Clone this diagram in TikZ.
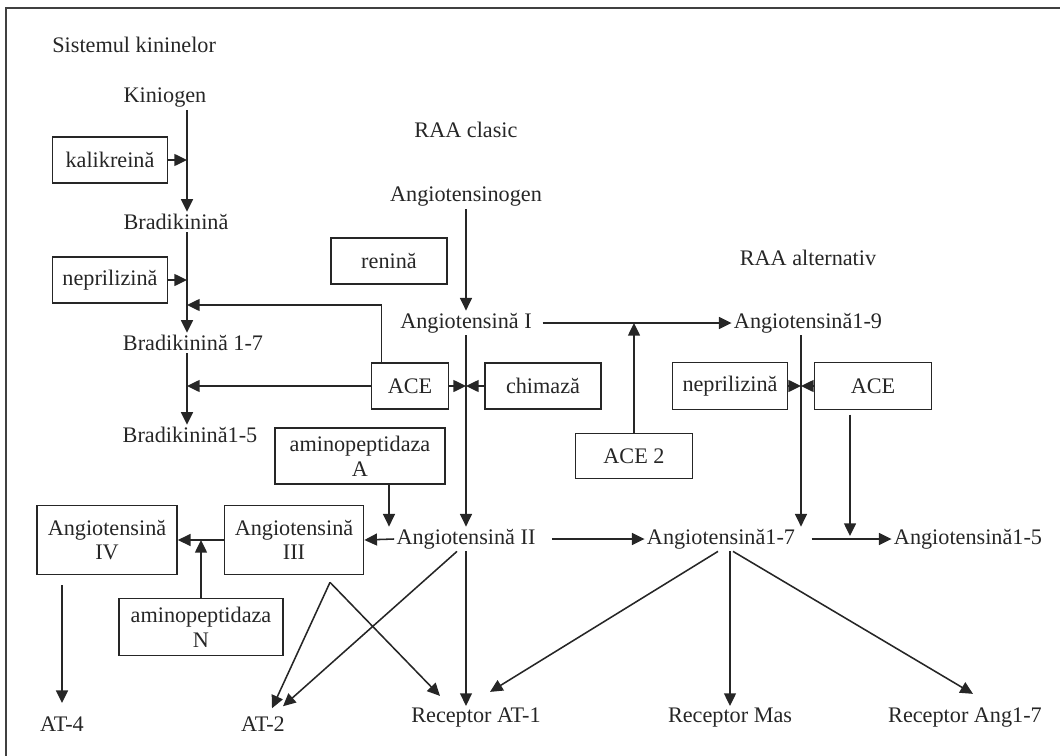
\documentclass[tikz,border=0pt]{standalone}
\usepackage{fontspec}
\setmainfont{Liberation Serif}
\usetikzlibrary{arrows.meta,positioning}

\tikzset{
  lbl/.style={inner sep=1.5pt, font=\fontsize{15.8}{17.5}\selectfont, text=black!85},
  enz/.style 2 args={draw=black!85, line width=1.2pt, align=center, inner sep=1pt,
    font=\fontsize{15.8}{17.5}\selectfont, text=black!85,
    minimum width=#1*0.025cm, minimum height=#2*0.025cm},
  arr/.style={draw=black!85, line width=1.1pt, -{Triangle[length=9pt,width=8.5pt]}},
  ln/.style={draw=black!85, line width=1.1pt}
}

\begin{document}
\begin{tikzpicture}[x=0.025cm, y=-0.025cm]
\useasboundingbox (0,0) rectangle (1060,756);
\draw[black!75, line width=1.4pt] (6,8) rectangle (1075,775); % frame

% Sistemul kininelor
\node[lbl, anchor=west] (titk) at (50,45) {Sistemul kininelor};
\node[lbl] (kin)  at (165,98)  {Kiniogen};
\node[lbl] (bk)   at (176,222) {Bradikinină};
\node[lbl] (bk17) at (193,343) {Bradikinină 1-7};
\node[lbl] (bk15) at (190,435) {Bradikinină1-5};
\node[enz={115}{46}] (kal)  at (110,160) {kalikreină};
\node[enz={115}{46}] (nepa) at (110,280) {neprilizină};
\coordinate (kx) at (187,0);

% RAA clasic
\node[lbl] (titc) at (466,130) {RAA clasic};
\node[lbl] (agen) at (466,197) {Angiotensinogen};
\node[lbl] (a1)   at (466,323) {Angiotensină I};
\node[lbl] (a2)   at (466,539) {Angiotensină II};
\node[enz={116}{46}] (ren)  at (389,261) {renină};
\node[enz={77}{46}]  (acea) at (410,386) {ACE};
\node[enz={116}{46}] (chim) at (543,386) {chimază};
\node[enz={170}{56}] (apa)  at (360,456) {aminopeptidaza\\A};
\node[enz={139}{69}] (a3)   at (294,540) {Angiotensină\\III};
\node[enz={140}{69}] (a4)   at (107,540) {Angiotensină\\IV};
\node[enz={164}{57}] (apn)  at (201,627) {aminopeptidaza\\N};

% RAA alternativ
\node[lbl] (tita) at (808,258) {RAA alternativ};
\node[lbl] (a19)  at (808,323) {Angiotensină1-9};
\node[lbl] (a17)  at (721,539) {Angiotensină1-7};
\node[lbl] (a15)  at (968,539) {Angiotensină1-5};
\node[enz={117}{45}] (ace2) at (634,456) {ACE 2};
\node[enz={115}{47}] (nepb) at (730,386) {neprilizină};
\node[enz={117}{47}] (aceb) at (873,386) {ACE};
\coordinate (rx) at (801,0);
\coordinate (ax) at (850,536);

% receptori
\node[lbl] (at4)  at (62,724)  {AT-4};
\node[lbl] (at2)  at (263,724) {AT-2};
\node[lbl] (rat1) at (476,718) {Receptor AT-1};
\node[lbl] (rmas) at (730,718) {Receptor Mas};
\node[lbl] (rang) at (965,718) {Receptor Ang1-7};

% kinine
\draw[arr] (kin.south -| kx) -- (bk.north -| kx);
\draw[arr] (kal.east) -- (kal.east -| kx);
\draw[arr] (bk.south -| kx) -- (bk17.north -| kx);
\draw[arr] (nepa.east) -- (nepa.east -| kx);
\draw[arr] (bk17.south -| kx) -- (bk15.north -| kx);
\draw[arr] ([xshift=0.275cm]acea.north west) |- (kx |- 0,305);
\draw[arr] (acea.west) -- (acea.west -| kx);

% clasic
\draw[arr] (agen.south) -- (a1.north);
\draw[arr] (a1.south) -- (a2.north);
\draw[arr] (acea.east) -- (acea.east -| a1);
\draw[arr] (chim.west) -- (chim.west -| a1);
\draw[arr, shorten <=6pt] (a1.east) -- (a19.west);
\draw[arr] (ace2.north) -- (ace2.north |- a1);
\draw[arr] ([xshift=0.725cm]apa.south) -- ([xshift=0.725cm]apa.south |- a2.north);
\draw[arr] (a2.west) -- (a3.east);
\draw[arr] (a3.west) -- (a4.east);
\draw[arr] (apn.north) -- (apn.north |- a3);
\draw[arr, shorten <=7pt, shorten >=8pt] (a4.south -| at4) -- (at4.north);

% alternativ
\draw[arr] (a19.south -| rx) -- (a17.north -| rx);
\draw[arr] (nepb.east) -- (nepb.east -| rx);
\draw[arr] (aceb.west) -- (aceb.west -| rx);
\draw[arr, shorten <=3pt] (aceb.south -| ax) -- (ax);
\draw[arr, shorten <=10pt] (a2.east) -- (a17.west);
\draw[arr, shorten <=10pt] (a17.east) -- (a15.west);

% spre receptori
\coordinate (a3b) at ([xshift=0.9cm, yshift=-0.175cm]a3.south);
\draw[arr] (a3b) -- ([xshift=0.225cm, yshift=0.15cm]at2.north);
\draw[arr] (a3b) -- ([xshift=-0.9cm, yshift=0.25cm]rat1.north);
\draw[arr] ([xshift=-0.225cm]a2.south) -- ([xshift=0.5cm, yshift=0.2cm]at2.north);
\draw[arr] (a2.south) -- (a2.south |- rat1.north);
\draw[arr] ([xshift=-0.075cm]a17.south) -- ([xshift=0.35cm, yshift=0.35cm]rat1.north);
\draw[arr] (a17.south -| rmas) -- (rmas.north);
\draw[arr] ([xshift=0.3cm]a17.south) -- ([xshift=0.2cm, yshift=0.3cm]rang.north);
\end{tikzpicture}
\end{document}
